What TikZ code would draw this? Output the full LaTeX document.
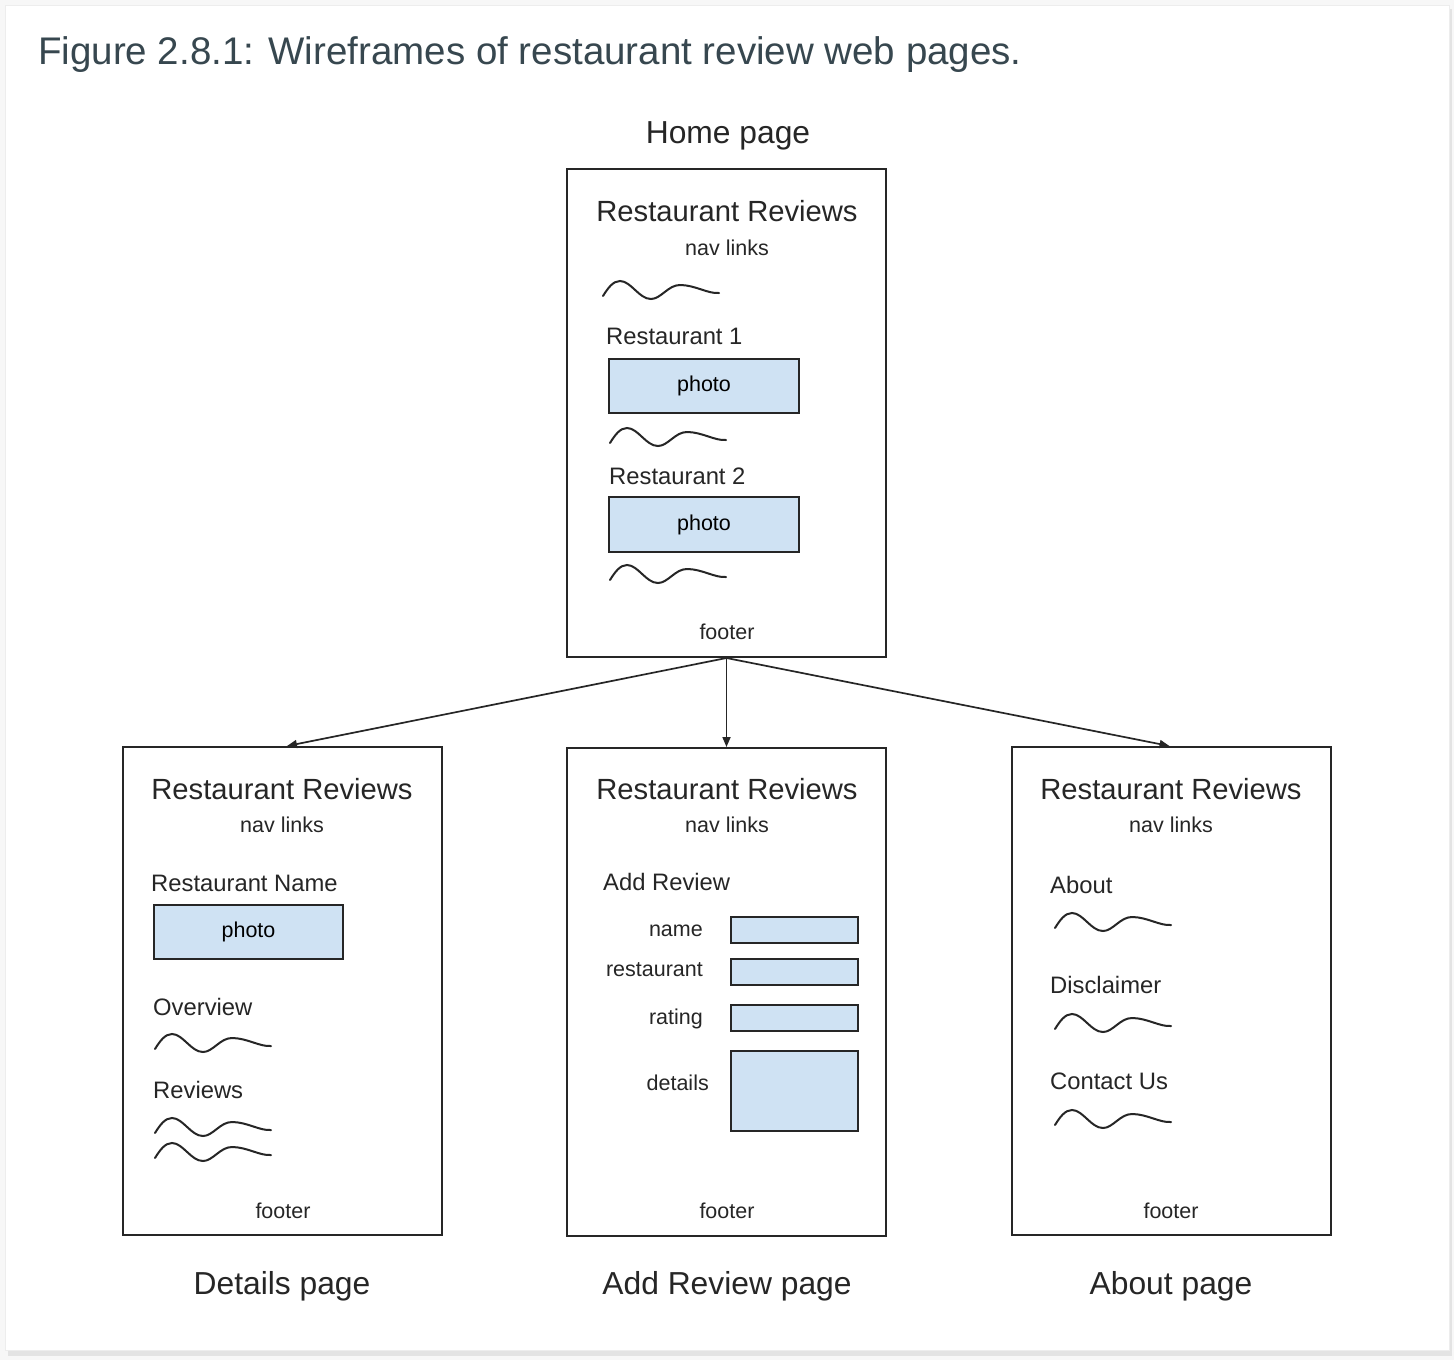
\documentclass[tikz,border=0pt]{standalone}
\usepackage{fontspec}
\setmainfont{Liberation Sans}
\usetikzlibrary{arrows.meta}
\definecolor{photoblue}{HTML}{CFE2F3}
\definecolor{captiongray}{HTML}{37474F}
\definecolor{inkgray}{HTML}{262626}
\tikzset{x=1pt, y=-1pt,
page/.style={ % one wireframe page
draw=inkgray, line width=2pt,
minimum width=319pt, minimum height=488pt, inner sep=0pt},
photobox/.style={draw=inkgray, line width=2pt, fill=photoblue,
minimum width=190pt, minimum height=54pt, inner sep=0pt,
font=\fontsize{21.5}{24}\selectfont},
fieldbox/.style={draw=inkgray, line width=2pt, fill=photoblue,
minimum width=127pt, minimum height=26pt, inner sep=0pt},
sitename/.style={inner sep=0pt, text=inkgray, font=\fontsize{29.2}{32}\selectfont},
small/.style={inner sep=0pt, text=inkgray, font=\fontsize{21.5}{24}\selectfont},
heading/.style={inner sep=0pt, anchor=west, text=inkgray, font=\fontsize{23.8}{26}\selectfont},
pagename/.style={inner sep=0pt, text=inkgray, font=\fontsize{31.8}{34}\selectfont},
link/.style={draw=inkgray, line width=1.7pt, -{Triangle[length=10pt,width=8pt]}},
scribble/.pic={ % placeholder text line
\draw[inkgray, line width=2pt, line cap=round]
(0,6) .. controls (5,-2) and (10,-9) .. (17,-9)
.. controls (28,-9) and (36,9) .. (48,9)
.. controls (58,9) and (65,-5) .. (77,-5)
.. controls (92,-5) and (105,4) .. (116,3);}}

\begin{document}
\begin{tikzpicture}
% card
\fill[gray!6] (0,0) rectangle (1454,1360);
\fill[gray!22] (8,9) rectangle (1452,1356);
\filldraw[fill=white, draw=gray!14, line width=1pt] (5,5) rectangle (1449,1350);
\node[anchor=west, inner sep=0pt, text=captiongray, font=\fontsize{38.5}{42}\selectfont]
  (caption) at (38,55) {Figure 2.8.1: Wireframes of restaurant review web pages.};

% home page
\node[pagename] (homelabel) at (728,136) {Home page};
\node[page] (home) at (726.5,413) {};
\node[sitename] (hometitle) at (727,211) {Restaurant Reviews};
\node[small] (homenav) at (727,248) {nav links};
\pic at (603,290) {scribble};
\node[heading] (rest1) at (606,336) {Restaurant 1};
\node[photobox] (photo1) at (704,385.5) {\raisebox{-2pt}{photo}};
\pic at (610,437) {scribble};
\node[heading] (rest2) at (609,476) {Restaurant 2};
\node[photobox, minimum height=55pt] (photo2) at (704,524.5) {\raisebox{-2pt}{photo}};
\pic at (610,574) {scribble};
\node[small] (homefoot) at (727,632) {footer};

% details page
\node[page] (details) at (282,991) {};
\node[sitename] (dettitle) at (282,789) {Restaurant Reviews};
\node[small] (detnav) at (282,825) {nav links};
\node[heading] (restname) at (151,883) {Restaurant Name};
\node[photobox, minimum width=189pt] (photo3) at (248.5,932) {\raisebox{-2pt}{photo}};
\node[heading] (overview) at (153,1007) {Overview};
\pic at (155,1043) {scribble};
\node[heading] (reviews) at (153,1090) {Reviews};
\pic at (155,1127) {scribble};
\pic at (155,1152) {scribble};
\node[small] (detfoot) at (283,1211) {footer};
\node[pagename] (detlabel) at (282,1286) {Details page};

% add review page
\node[page] (addrev) at (726.5,992) {};
\node[sitename] (addtitle) at (727,789) {Restaurant Reviews};
\node[small] (addnav) at (727,825) {nav links};
\node[heading] (addhead) at (603,882) {Add Review};
\node[small, anchor=east] (lname) at (703,931) {name};
\node[fieldbox] (fname) at (794.5,930) {};
\node[small, anchor=east] (lrest) at (703,970) {restaurant};
\node[fieldbox] (frest) at (794.5,971.5) {};
\node[small, anchor=east] (lrating) at (703,1019) {rating};
\node[fieldbox] (frating) at (794.5,1018) {};
\node[small, anchor=east] (ldetails) at (709,1083) {details};
\node[fieldbox, minimum height=80pt] (fdetails) at (794.5,1091) {};
\node[small] (addfoot) at (727,1211) {footer};
\node[pagename] (addlabel) at (727,1286) {Add Review page};

% about page
\node[page] (about) at (1171.5,991) {};
\node[sitename] (abtitle) at (1171,789) {Restaurant Reviews};
\node[small] (abnav) at (1171,825) {nav links};
\node[heading] (abouthead) at (1050,885) {About};
\pic at (1055,922) {scribble};
\node[heading] (disclaimer) at (1050,985) {Disclaimer};
\pic at (1055,1023) {scribble};
\node[heading] (contact) at (1050,1081) {Contact Us};
\pic at (1055,1119) {scribble};
\node[small] (abfoot) at (1171,1211) {footer};
\node[pagename] (ablabel) at (1171,1286) {About page};

% links
\draw[link] (home.south) -- ([xshift=5pt]details.north);
\draw[link] (home.south) -- (home.south |- addrev.north);
\draw[link] (home.south) -- ([xshift=-2pt]about.north);
\end{tikzpicture}
\end{document}
